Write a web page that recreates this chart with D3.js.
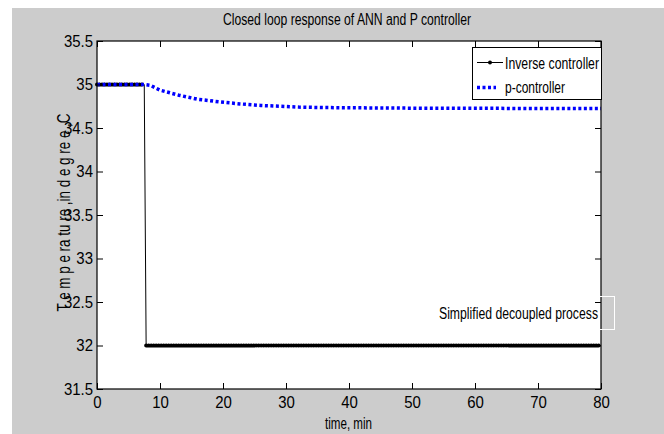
<!DOCTYPE html>
<html>
<head>
<meta charset="utf-8">
<script src="https://cdn.jsdelivr.net/npm/d3@7"></script>
<style>
  body { margin: 0; background: #fff; }
  text { font-family: "Liberation Sans Narrow", "Arial Narrow", "Liberation Sans", Arial, sans-serif; fill: #000; }
</style>
</head>
<body>
<div id="chart"></div>
<script>
// tick values
var timeTicks = [0, 10, 20, 30, 40, 50, 60, 70, 80];
var tempTicks = [31.5, 32, 32.5, 33, 33.5, 34, 34.5, 35, 35.5];

// Inverse (ANN) controller - step down to 32
var inverseTime = [0, 7.5, 7.8, 80];
var inverseTemp = [35, 35, 32, 32];

// p-controller - slow decay to ~34.73
var pTime = [0, 7.5, 8.5, 10, 13, 16, 19.5, 22.7, 26, 29, 32, 36, 41, 50, 60, 70, 80];
var pTemp = [35, 35, 34.99, 34.935, 34.877, 34.83, 34.8, 34.777, 34.759, 34.75, 34.74, 34.735, 34.732, 34.728, 34.726, 34.725, 34.725];

var seriesNames = ["Inverse controller", "p-controller"];

var svgW = 664;
var svgH = 434;
var margin = { top: 41, right: 63, bottom: 45, left: 97 };
var chartW = svgW - margin.left - margin.right;
var chartH = svgH - margin.top - margin.bottom;

var svg = d3.select("#chart")
    .append("svg")
    .attr("width", svgW)
    .attr("height", svgH);

// figure background
svg.append("rect")
    .attr("x", 12)
    .attr("y", 8)
    .attr("width", svgW - 12)
    .attr("height", svgH - 8)
    .attr("fill", "#cccccc");

var chartG = svg.append("g")
    .attr("transform", `translate(${margin.left}, ${margin.top})`);

chartG.append("rect")
    .attr("width", chartW)
    .attr("height", chartH)
    .attr("fill", "#fff");

var xScale = d3.scaleLinear().domain([0, 80]).range([0, chartW]);
var yScale = d3.scaleLinear().domain([31.5, 35.5]).range([chartH, 0]);

function squeeze(sel, k) {
    sel.each(function() {
        var len = this.getComputedTextLength();
        d3.select(this).attr("textLength", len * k).attr("lengthAdjust", "spacingAndGlyphs");
    });
}

function fit(sel, w) {
    sel.attr("textLength", w).attr("lengthAdjust", "spacingAndGlyphs");
}

// annotation text box (white border shows only on grey)
svg.append("rect")
    .attr("x", 436.5)
    .attr("y", 296.5)
    .attr("width", 178)
    .attr("height", 33)
    .attr("fill", "none")
    .attr("stroke", "#fff");

var inverseData = inverseTime.map(function(t, i) { return { t: t, v: inverseTemp[i] }; });
var pData = pTime.map(function(t, i) { return { t: t, v: pTemp[i] }; });

var line = d3.line()
    .x(function(d) { return xScale(d.t); })
    .y(function(d) { return yScale(d.v); });

chartG.append("path")
    .datum(inverseData)
    .attr("d", line)
    .attr("fill", "none")
    .attr("stroke", "#000")
    .attr("stroke-width", 1);

// '.' markers along the flat runs
var flatRuns = d3.pairs(inverseData).filter(function(p) { return p[0].v === p[1].v; });
chartG.selectAll(".marks")
    .data(flatRuns)
    .enter()
    .append("path")
    .attr("d", function(p) { return line(p); })
    .attr("fill", "none")
    .attr("stroke", "#000")
    .attr("stroke-width", 4)
    .attr("stroke-linecap", "round")
    .attr("stroke-dasharray", "0 2.5");

chartG.append("path")
    .datum(pData)
    .attr("d", line)
    .attr("fill", "none")
    .attr("stroke", "#0000ff")
    .attr("stroke-width", 3.5)
    .attr("stroke-dasharray", "3 2.5");

// axes, ticks pointing in
var bAxis = d3.axisBottom(xScale).tickValues(timeTicks).tickSize(-6).tickPadding(7);
var tAxis = d3.axisTop(xScale).tickValues(timeTicks).tickSize(-6).tickFormat("");
var lAxis = d3.axisLeft(yScale).tickValues(tempTicks).tickSize(-6).tickPadding(4).tickFormat(d3.format("~g"));
var rAxis = d3.axisRight(yScale).tickValues(tempTicks).tickSize(-6).tickFormat("");

chartG.append("g").attr("transform", `translate(0, ${chartH})`).call(bAxis);
chartG.append("g").call(tAxis);
chartG.append("g").call(lAxis);
chartG.append("g").attr("transform", `translate(${chartW}, 0)`).call(rAxis);

chartG.selectAll(".domain").remove();
chartG.selectAll(".tick line").attr("stroke", "#000");
chartG.selectAll(".tick text").attr("font-size", 17).attr("font-family", null).attr("fill", "#000");
squeeze(chartG.selectAll(".tick text"), 0.88);

chartG.append("rect")
    .attr("width", chartW)
    .attr("height", chartH)
    .attr("fill", "none")
    .attr("stroke", "#000")
    .attr("stroke-width", 1.2);

// title and labels
svg.append("text")
    .attr("x", 347)
    .attr("y", 25)
    .attr("text-anchor", "middle")
    .attr("font-size", 16)
    .text("Closed loop response of ANN and P controller")
    .call(fit, 248);

svg.append("text")
    .attr("x", 348.5)
    .attr("y", 429)
    .attr("text-anchor", "middle")
    .attr("font-size", 16)
    .text("time, min")
    .call(fit, 47);

svg.append("text")
    .attr("transform", "translate(70, 212.5) rotate(-90)")
    .attr("text-anchor", "middle")
    .attr("font-size", 18)
    .text("T e m p e ra tu re ,in d e g re e ,C")
    .call(fit, 198);

svg.append("text")
    .attr("x", 598)
    .attr("y", 318.5)
    .attr("text-anchor", "end")
    .attr("font-size", 16)
    .text("Simplified decoupled process")
    .call(fit, 159);

// legend
var legendG = svg.append("g");
legendG.append("rect")
    .attr("x", 472.5)
    .attr("y", 47.5)
    .attr("width", 129)
    .attr("height", 52)
    .attr("fill", "#fff")
    .attr("stroke", "#000");

legendG.append("line")
    .attr("x1", 477).attr("x2", 503)
    .attr("y1", 62.5).attr("y2", 62.5)
    .attr("stroke", "#000");
legendG.append("circle")
    .attr("cx", 490).attr("cy", 62.5).attr("r", 2)
    .attr("fill", "#000");
legendG.append("line")
    .attr("x1", 477).attr("x2", 496)
    .attr("y1", 87.5).attr("y2", 87.5)
    .attr("stroke", "#0000ff")
    .attr("stroke-width", 3.5)
    .attr("stroke-dasharray", "3 2.5");

legendG.selectAll(".legText")
    .data(seriesNames)
    .enter()
    .append("text")
    .attr("x", 505)
    .attr("y", function(d, i) { return 68.5 + i * 24.5; })
    .attr("font-size", 16)
    .text(function(d) { return d; })
    .each(function(d, i) { d3.select(this).call(fit, i === 0 ? 94 : 60); });
</script>
</body>
</html>
